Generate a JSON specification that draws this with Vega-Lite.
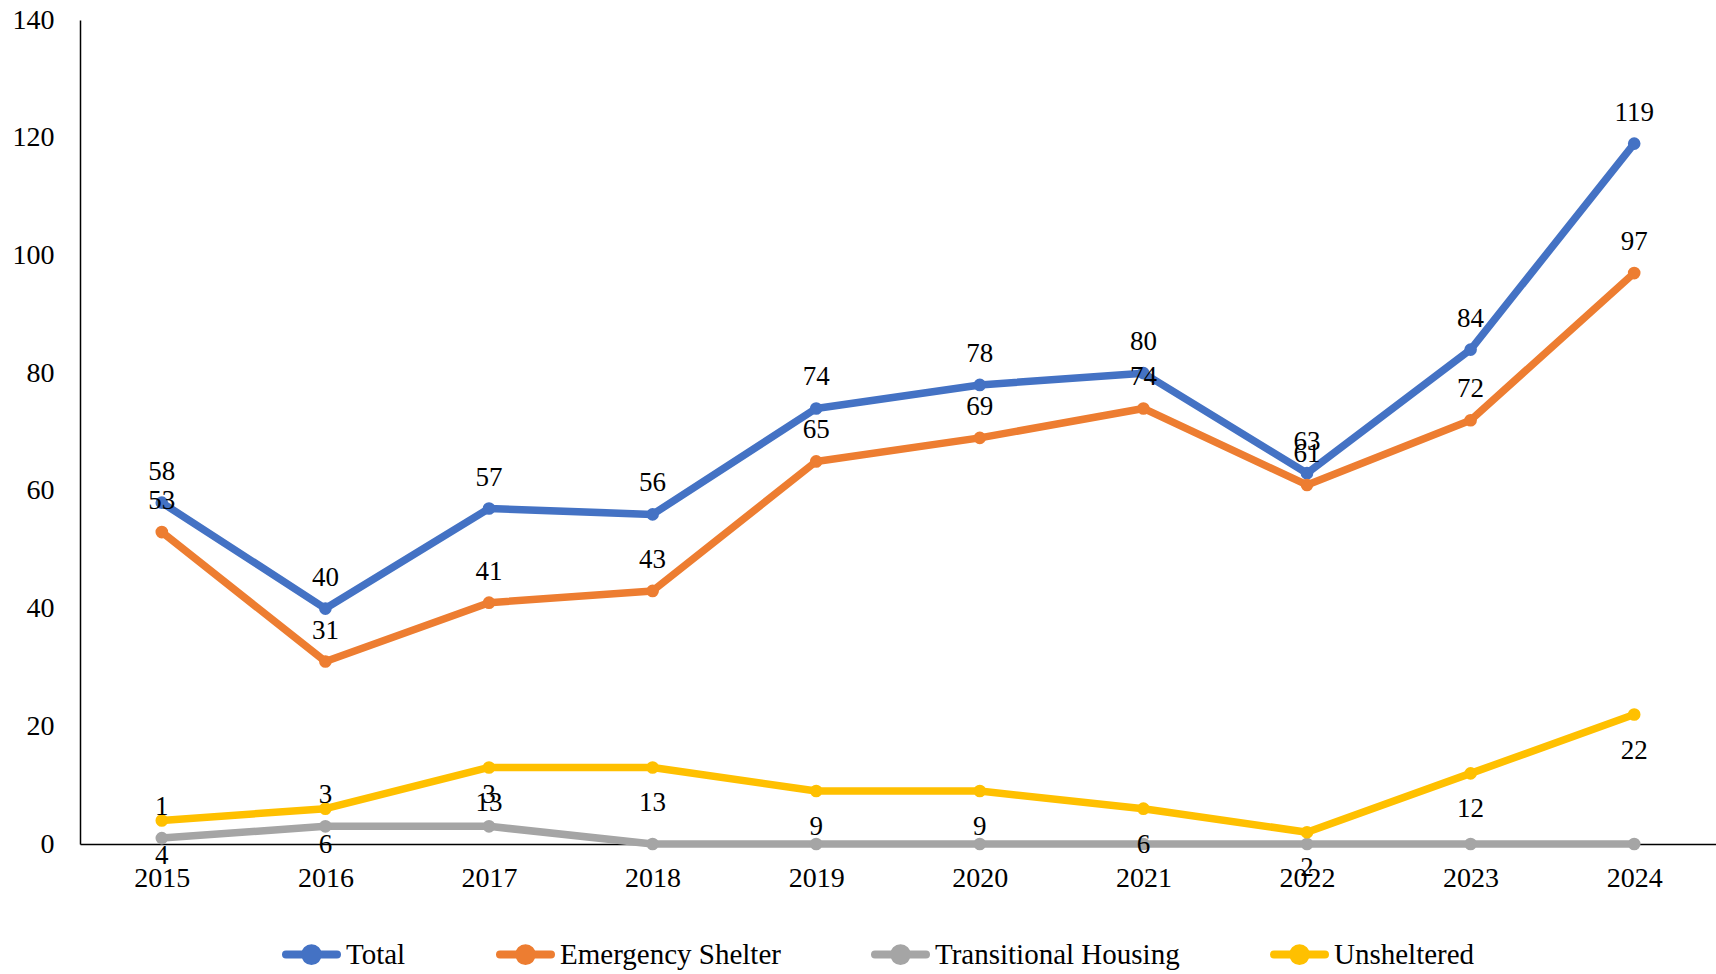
{
  "$schema": "https://vega.github.io/schema/vega-lite/v6.json",
  "width": 1636,
  "height": 824,
  "autosize": {"type": "none"},
  "padding": {"left": 80, "top": 20, "right": 0, "bottom": 130},
  "background": "white",
  "config": {"view": {"stroke": null}, "font": "Liberation Serif"},
  "data": {
    "values": [
      {"year": "2015", "series": "Total", "value": 58},
      {"year": "2016", "series": "Total", "value": 40},
      {"year": "2017", "series": "Total", "value": 57},
      {"year": "2018", "series": "Total", "value": 56},
      {"year": "2019", "series": "Total", "value": 74},
      {"year": "2020", "series": "Total", "value": 78},
      {"year": "2021", "series": "Total", "value": 80},
      {"year": "2022", "series": "Total", "value": 63},
      {"year": "2023", "series": "Total", "value": 84},
      {"year": "2024", "series": "Total", "value": 119},
      {"year": "2015", "series": "Emergency Shelter", "value": 53},
      {"year": "2016", "series": "Emergency Shelter", "value": 31},
      {"year": "2017", "series": "Emergency Shelter", "value": 41},
      {"year": "2018", "series": "Emergency Shelter", "value": 43},
      {"year": "2019", "series": "Emergency Shelter", "value": 65},
      {"year": "2020", "series": "Emergency Shelter", "value": 69},
      {"year": "2021", "series": "Emergency Shelter", "value": 74},
      {"year": "2022", "series": "Emergency Shelter", "value": 61},
      {"year": "2023", "series": "Emergency Shelter", "value": 72},
      {"year": "2024", "series": "Emergency Shelter", "value": 97},
      {"year": "2015", "series": "Transitional Housing", "value": 1},
      {"year": "2016", "series": "Transitional Housing", "value": 3},
      {"year": "2017", "series": "Transitional Housing", "value": 3},
      {"year": "2018", "series": "Transitional Housing", "value": 0},
      {"year": "2019", "series": "Transitional Housing", "value": 0},
      {"year": "2020", "series": "Transitional Housing", "value": 0},
      {"year": "2021", "series": "Transitional Housing", "value": 0},
      {"year": "2022", "series": "Transitional Housing", "value": 0},
      {"year": "2023", "series": "Transitional Housing", "value": 0},
      {"year": "2024", "series": "Transitional Housing", "value": 0},
      {"year": "2015", "series": "Unsheltered", "value": 4},
      {"year": "2016", "series": "Unsheltered", "value": 6},
      {"year": "2017", "series": "Unsheltered", "value": 13},
      {"year": "2018", "series": "Unsheltered", "value": 13},
      {"year": "2019", "series": "Unsheltered", "value": 9},
      {"year": "2020", "series": "Unsheltered", "value": 9},
      {"year": "2021", "series": "Unsheltered", "value": 6},
      {"year": "2022", "series": "Unsheltered", "value": 2},
      {"year": "2023", "series": "Unsheltered", "value": 12},
      {"year": "2024", "series": "Unsheltered", "value": 22}
    ]
  },
  "encoding": {
    "x": {
      "field": "year",
      "type": "ordinal",
      "scale": {"type": "point", "padding": 0.5},
      "axis": {
        "title": null,
        "labelAngle": 0,
        "labelFont": "Liberation Serif",
        "labelFontSize": 28,
        "labelColor": "black",
        "labelPadding": 20,
        "ticks": false,
        "tickSize": 0,
        "grid": false,
        "domainColor": "black",
        "domainWidth": 1.5
      }
    },
    "y": {
      "field": "value",
      "type": "quantitative",
      "scale": {"domain": [0, 140], "nice": false},
      "axis": {
        "title": null,
        "values": [0, 20, 40, 60, 80, 100, 120, 140],
        "labelFont": "Liberation Serif",
        "labelFontSize": 28,
        "labelColor": "black",
        "labelPadding": 26,
        "ticks": false,
        "tickSize": 0,
        "grid": false,
        "domainColor": "black",
        "domainWidth": 1.5
      }
    },
    "color": {
      "field": "series",
      "type": "nominal",
      "scale": {
        "domain": ["Total", "Emergency Shelter", "Transitional Housing", "Unsheltered"],
        "range": ["#4472C4", "#ED7D31", "#A5A5A5", "#FFC000"]
      },
      "legend": {
        "title": null,
        "orient": "none",
        "direction": "horizontal",
        "legendX": 202,
        "legendY": 905,
        "padding": 0,
        "columnPadding": 78,
        "symbolType": "M-1,0L1,0M0.25,0A0.25,0.25,0,1,1,-0.25,0A0.25,0.25,0,1,1,0.25,0Z",
        "symbolSize": 2601,
        "symbolStrokeWidth": 8,
        "labelFont": "Liberation Serif",
        "labelFontSize": 29,
        "labelColor": "black",
        "labelOffset": 5,
        "labelLimit": 400,
        "encode": {
          "symbols": {
            "update": {
              "fill": {"scale": "color", "field": "value"},
              "stroke": {"scale": "color", "field": "value"},
              "strokeWidth": {"value": 8},
              "strokeCap": {"value": "round"},
              "opacity": {"value": 1}
            }
          }
        }
      }
    }
  },
  "layer": [
    {"mark": {"type": "line", "strokeWidth": 7.5, "strokeCap": "round", "strokeJoin": "round"}},
    {"mark": {"type": "point", "filled": true, "size": 160, "opacity": 1}},
    {
      "transform": [{"filter": "datum.series != 'Unsheltered' && datum.value != 0"}],
      "mark": {"type": "text", "dy": -31, "fontSize": 27, "font": "Liberation Serif", "baseline": "middle"},
      "encoding": {"text": {"field": "value"}, "color": {"value": "black"}}
    },
    {
      "transform": [{"filter": "datum.series == 'Unsheltered'"}],
      "mark": {"type": "text", "dy": 36, "fontSize": 27, "font": "Liberation Serif", "baseline": "middle"},
      "encoding": {"text": {"field": "value"}, "color": {"value": "black"}}
    }
  ]
}
